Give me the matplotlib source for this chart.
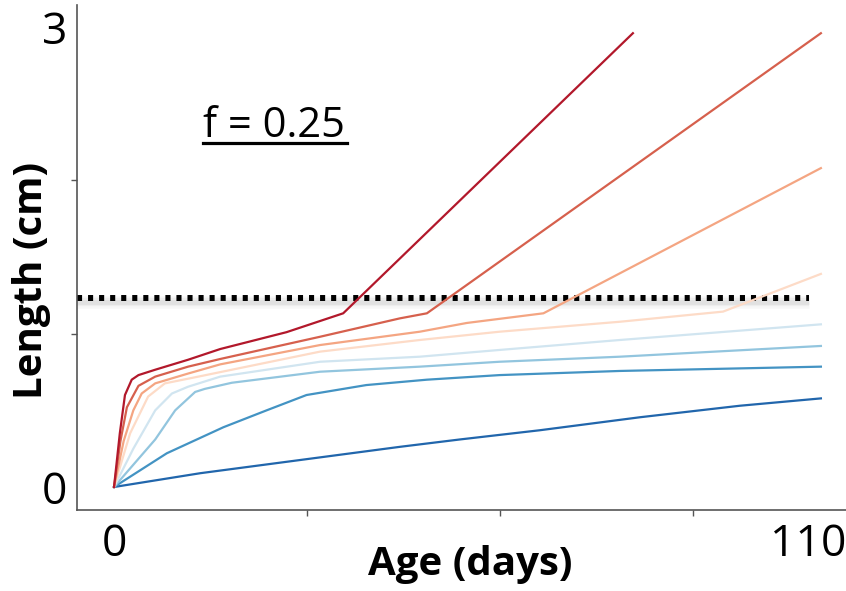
import matplotlib
matplotlib.use("Agg")
import matplotlib.pyplot as plt
from matplotlib.lines import Line2D
from matplotlib.transforms import offset_copy

plt.rcParams['font.family'] = ['Open Sans', 'DejaVu Sans']

# ---- data (age in days, length in cm) ----
colors = ['#b2182b', '#d6604d', '#f4a582', '#fddbc7',
          '#d1e5f0', '#92c5de', '#4393c3', '#2166ac']

x1 = [0, 0.9, 1.7, 2.75, 3.8, 6.4, 11.5, 16.5, 26.8, 35.6, 80.6]
y1 = [0, 0.35, 0.60, 0.70, 0.73, 0.765, 0.83, 0.90, 1.01, 1.133, 2.96]

x2 = [0, 1.0, 2.0, 3.8, 6.4, 11.5, 16.5, 32, 44.4, 48.6, 109.8]
y2 = [0, 0.30, 0.52, 0.66, 0.72, 0.785, 0.835, 0.98, 1.10, 1.133, 2.96]

x3 = [0, 1.5, 3.0, 4.3, 6.4, 11.5, 16.5, 32, 47.5, 54.8, 66.7, 109.8]
y3 = [0, 0.30, 0.50, 0.61, 0.676, 0.74, 0.80, 0.926, 1.013, 1.07, 1.133, 2.08]

x4 = [0, 2.5, 5.3, 7.9, 13.1, 18.3, 32, 47.5, 59.9, 78.6, 94.6, 109.8]
y4 = [0, 0.35, 0.59, 0.676, 0.72, 0.765, 0.883, 0.959, 1.013, 1.078, 1.144, 1.39]

x5 = [0, 3, 6.4, 9, 11.5, 16.5, 32, 47.5, 59.9, 78.6, 109.8]
y5 = [0, 0.25, 0.50, 0.61, 0.654, 0.72, 0.817, 0.85, 0.894, 0.959, 1.061]

x6 = [0, 6.4, 9.5, 12.6, 14.1, 18.3, 32, 47.5, 59.9, 78.6, 109.8]
y6 = [0, 0.31, 0.50, 0.62, 0.64, 0.68, 0.752, 0.785, 0.817, 0.85, 0.92]

x7 = [0, 8.2, 17, 23.7, 29.9, 39.2, 48.6, 59.9, 78.6, 109.8]
y7 = [0, 0.22, 0.39, 0.50, 0.60, 0.665, 0.70, 0.73, 0.757, 0.785]

x8 = [0, 13.4, 28.9, 44.4, 53.7, 66.1, 81.7, 97.2, 109.8]
y8 = [0, 0.09, 0.176, 0.262, 0.31, 0.37, 0.455, 0.53, 0.578]

threshold = 1.231
threshold_x = [-5.75, 108]

xtick_marks = [0, 30, 60, 90]
ytick_marks = [0, 1, 2, 3]
xtick_labels = {0: '0', 110: '110'}
ytick_labels = {0: '0', 3: '3'}
label_text = 'f = 0.25'

# ---- figure ----
fig = plt.figure(figsize=(8.46, 5.91), dpi=100)
ax = fig.add_axes([77/846, 1 - 510/591, 1 - 77/846, (510 - 5)/591])

# threshold shadow + dotted line
for lw, a in [(9, 0.06), (6, 0.08), (3.5, 0.10)]:
    ax.plot(threshold_x, [threshold - 0.022]*2, color='gray', lw=lw, alpha=a,
            solid_capstyle='butt', zorder=1)
ax.plot(threshold_x, [threshold]*2, color='black', lw=4.3,
        dashes=(0.85, 1.0), dash_capstyle='butt', zorder=2)

series = [(x1, y1), (x2, y2), (x3, y3), (x4, y4),
          (x5, y5), (x6, y6), (x7, y7), (x8, y8)]
for (xs, ys), c in reversed(list(zip(series, colors))):
    ax.plot(xs, ys, color=c, lw=1.6, zorder=3)

ax.set_xlim(-5.75, 113.7)
ax.set_ylim(-0.15, 3.144)

for s in ['top', 'right']:
    ax.spines[s].set_visible(False)
for s in ['left', 'bottom']:
    ax.spines[s].set_color('#555555')
    ax.spines[s].set_linewidth(1.2)

# tick marks (minor) and labels (major)
ax.set_xticks(xtick_marks, minor=True)
ax.set_yticks(ytick_marks, minor=True)
ax.set_xticks(list(xtick_labels.keys()))
ax.set_xticklabels(list(xtick_labels.values()))
ax.set_yticks(list(ytick_labels.keys()))
ax.set_yticklabels(list(ytick_labels.values()))
ax.tick_params(which='minor', length=4, width=1, color='#555555')
ax.tick_params(which='major', length=0, labelsize=32, pad=9)
ax.tick_params(axis='y', which='major', pad=7)

# shift the last x tick label so it stays inside the figure (right-aligned)
last = ax.get_xticklabels()[-1]
last.set_ha('right')
last.set_transform(offset_copy(last.get_transform(), fig=fig, x=24, y=0, units='dots'))

fig.text(470/846, 1 - 564/591, 'Age (days)', fontsize=29, fontweight='bold',
         ha='center', va='center')
fig.text(32/846, 1 - 280/591, 'Length (cm)', fontsize=29, fontweight='bold',
         ha='center', va='center', rotation=90)

t = fig.text(203/846, 1 - 137/591, label_text, fontsize=30,
             ha='left', va='baseline')
fig.canvas.draw()
bb = t.get_window_extent(fig.canvas.get_renderer())
inv = fig.transFigure.inverted()
(x0f, y0f), (x1f, _) = inv.transform([(bb.x0, bb.y0), (bb.x1, bb.y0)])
fig.add_artist(Line2D([x0f, x1f + 2/846], [1 - 143/591]*2,
                      transform=fig.transFigure, color='black', lw=2.3))

fig.savefig('out.png', dpi=100)
